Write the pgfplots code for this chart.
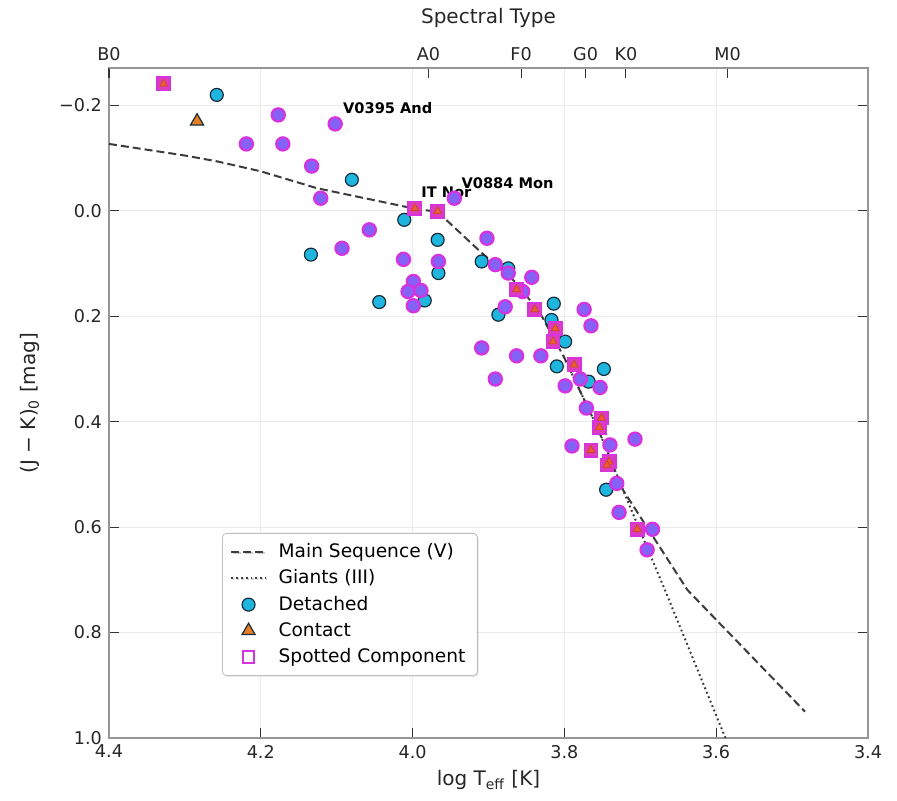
\documentclass[border=0pt]{standalone}
\usepackage{fontspec}
\setmainfont{DejaVu Sans}
\usepackage{pgfplots}
\pgfplotsset{compat=1.18}
\usetikzlibrary{shadows}
\definecolor{det}{RGB}{30,182,222}
\definecolor{detedge}{RGB}{25,45,60}
\definecolor{cont}{RGB}{230,126,34}
\definecolor{spotfill}{RGB}{132,98,246}
\definecolor{spotedge}{RGB}{214,50,224}
\definecolor{spotsq}{RGB}{222,60,190}
\definecolor{spottri}{RGB}{240,90,50}
\definecolor{msline}{RGB}{60,60,60}
\definecolor{spine}{RGB}{150,150,150}
\begin{document}
\begin{tikzpicture}
\pgfplotsset{
  common/.style={
    scale only axis, width=379.5pt, height=335pt,
    x dir=reverse, xmin=3.4, xmax=4.4,
    y dir=reverse, ymin=-0.271, ymax=1.0,
    tick align=inside, major tick length=5pt,
    tick style={color=black!80, line width=0.6pt},
    axis line style={spine, line width=0.6pt},
    ticklabel style={font=\fontsize{8.8}{10}\selectfont, text=black!85},
    label style={font=\fontsize{10}{12}\selectfont, text=black!85},
  }
}
\begin{axis}[common, name=main,
  xtick={3.4,3.6,3.8,4.0,4.2,4.4},
  xticklabels={3.4,3.6,3.8,4.0,4.2,4.4},
  ytick={-0.2,0,0.2,0.4,0.6,0.8,1.0},
  yticklabels={−0.2,0.0,0.2,0.4,0.6,0.8,1.0},
  xtick pos=bottom, ytick pos=both,
  grid=major, major grid style={black!8, line width=0.4pt},
  xlabel={log T\textsubscript{eff} [K]},
  ylabel={(J − K)\textsubscript{0} [mag]},
  xlabel style={yshift=1pt},
  ylabel style={yshift=3pt},
  legend style={at={(0.149,0.306)}, anchor=north west, draw=black!25, rounded corners=2pt,
    fill=white, font=\fontsize{9.3}{11}\selectfont, row sep=0.6pt, column sep=4pt,
    inner xsep=4pt, inner ysep=3pt,
    drop shadow={shadow xshift=0.6pt, shadow yshift=-0.6pt, opacity=0.25}},
  legend cell align=left,
]
% Main sequence
\addplot[msline, line width=1pt, dash pattern=on 4pt off 2pt] coordinates {
(4.40,-0.127) (4.30,-0.105) (4.258,-0.094) (4.20,-0.075) (4.126,-0.043) (4.00,-0.005) (3.967,0.002)
(3.911,0.077) (3.863,0.137) (3.832,0.194) (3.801,0.276) (3.755,0.416) (3.723,0.529) (3.638,0.719) (3.483,0.950)};
\addlegendentry{Main Sequence (V)}
% Giants
\addplot[msline, line width=1pt, dash pattern=on 0.9pt off 1.5pt] coordinates {
(3.801,0.276) (3.755,0.416) (3.723,0.529) (3.667,0.721) (3.585,1.01)};
\addlegendentry{Giants (III)}
\addlegendimage{only marks, mark=*, mark size=3.25pt, mark options={fill=det, draw=detedge, line width=0.6pt}}
\addlegendentry{Detached}
\addlegendimage{only marks, mark=triangle*, mark size=3.8pt, mark options={fill=cont, draw=detedge, line width=0.6pt}}
\addlegendentry{Contact}
\addlegendimage{only marks, mark=square, mark size=2.8pt, mark options={draw=spotedge, line width=1pt}}
\addlegendentry{Spotted Component}
% Detached
\addplot[only marks, mark=*, mark size=3.25pt, mark options={fill=det, draw=detedge, line width=0.6pt}, forget plot] coordinates {
(4.258,-0.220) (4.080,-0.059) (4.011,0.017) (3.967,0.055) (4.134,0.083) (3.966,0.118)
(3.984,0.170) (4.044,0.173) (3.909,0.096) (3.874,0.109) (3.887,0.197) (3.814,0.176)
(3.817,0.207) (3.799,0.248) (3.810,0.295) (3.768,0.324) (3.748,0.300) (3.745,0.529)};
% Contact
\addplot[only marks, mark=triangle*, mark size=3.8pt, mark options={fill=cont, draw=detedge, line width=0.6pt}, forget plot] coordinates {
(4.284,-0.170)};
% Spotted detached
\addplot[only marks, mark=*, mark size=3.3pt, mark options={fill=spotfill, draw=spotedge, line width=1.1pt}, forget plot] coordinates {
(4.177,-0.182) (4.102,-0.165) (4.219,-0.127) (4.171,-0.127) (4.133,-0.085) (4.121,-0.024)
(3.945,-0.024) (4.057,0.036) (3.902,0.052) (4.093,0.071) (4.012,0.092) (3.966,0.096)
(3.999,0.134) (4.006,0.153) (3.989,0.151) (3.999,0.180) (3.891,0.102) (3.909,0.260)
(3.874,0.118) (3.843,0.126) (3.855,0.153) (3.878,0.182) (3.774,0.187) (3.765,0.218)
(3.863,0.275) (3.831,0.275) (3.891,0.319) (3.779,0.319) (3.753,0.335) (3.799,0.332)
(3.771,0.374) (3.790,0.446) (3.740,0.444) (3.707,0.433) (3.731,0.517) (3.728,0.572)
(3.684,0.604) (3.691,0.643)};
% Spotted contact: square + triangle
\addplot[only marks, mark=square*, mark size=3.3pt, mark options={fill=spotsq, draw=spotedge, line width=0.8pt}, forget plot] coordinates {
(4.328,-0.241) (3.997,-0.005) (3.967,0.001) (3.863,0.149) (3.839,0.187) (3.812,0.223)
(3.815,0.248) (3.787,0.292) (3.751,0.393) (3.754,0.411) (3.765,0.454) (3.741,0.476)
(3.744,0.482) (3.704,0.604)};
\addplot[only marks, mark=triangle*, mark size=2.3pt, mark options={fill=spottri, draw=spottri!80!black, line width=0.3pt}, forget plot] coordinates {
(4.328,-0.241) (3.997,-0.005) (3.967,0.001) (3.863,0.149) (3.839,0.187) (3.812,0.223)
(3.815,0.248) (3.787,0.292) (3.751,0.393) (3.754,0.411) (3.765,0.454) (3.741,0.476)
(3.744,0.482) (3.704,0.604)};
% annotations
\node[anchor=west, font=\fontsize{7.3}{8}\selectfont\bfseries, inner sep=0pt] at (axis cs:4.092,-0.195) {V0395 And};
\node[anchor=west, font=\fontsize{7.3}{8}\selectfont\bfseries, inner sep=0pt] at (axis cs:3.989,-0.036) {IT Nor};
\node[anchor=west, font=\fontsize{7.3}{8}\selectfont\bfseries, inner sep=0pt] at (axis cs:3.936,-0.053) {V0884 Mon};
\end{axis}
\begin{axis}[common, name=top,
  axis x line*=top, axis y line=none,
  xtick={4.4,3.979,3.857,3.772,3.719,3.585},
  xticklabels={B0,A0,F0,G0,K0,M0},
  xtick pos=top, ytick=\empty,
  xlabel={Spectral Type},
  xlabel style={yshift=3pt},
]
\addplot[draw=none] coordinates {(4.0,0.0)};
\end{axis}
\pgfresetboundingbox
\path ([xshift=-54.5pt,yshift=-31pt]main.south west) rectangle ([xshift=14.5pt,yshift=34pt]main.north east);
\end{tikzpicture}
\end{document}
